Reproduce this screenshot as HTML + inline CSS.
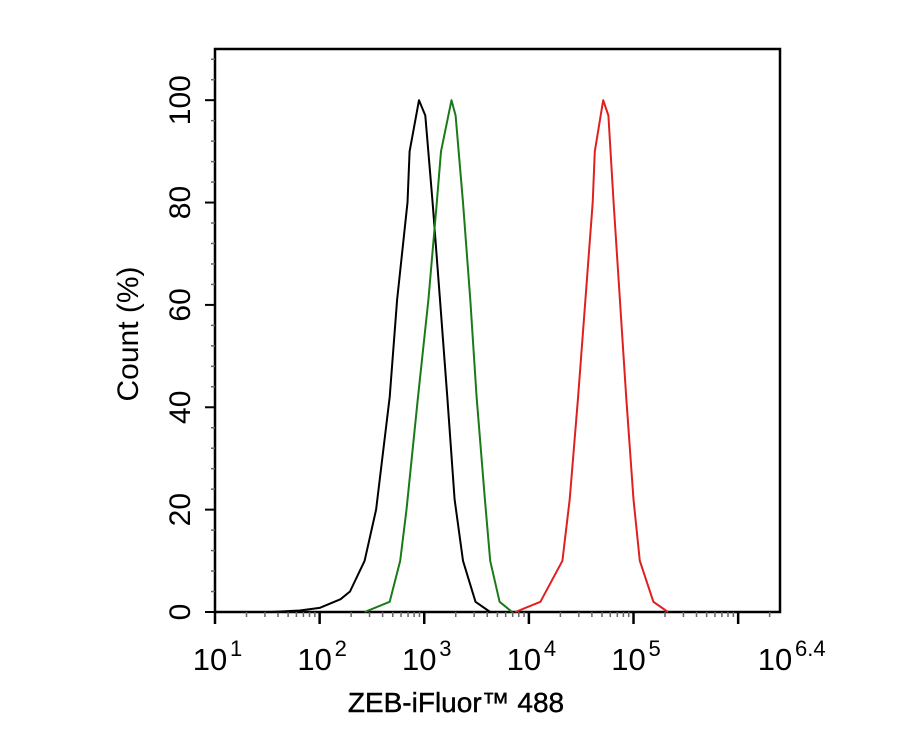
<!DOCTYPE html>
<html><head><meta charset="utf-8"><style>
body{margin:0;background:#fff;}
svg{display:block;font-family:"Liberation Sans",sans-serif;}
</style></head><body>
<svg id="chart" width="913" height="730" viewBox="0 0 913 730" xmlns="http://www.w3.org/2000/svg">
<g id="axes"></g>
<g id="series"></g>
<text x="456" y="712" font-size="28" text-anchor="middle" fill="#000" stroke="#000" stroke-width="0.4">ZEB-iFluor™ 488</text>
<text transform="translate(138,334) rotate(-90)" font-size="30" text-anchor="middle" fill="#000">Count  (%)</text>
</svg>
<script>
const xTickLogs = [1, 2, 3, 4, 5, 6.4];
const xTickBase = ["10", "10", "10", "10", "10", "10"];
const xTickExp = ["1", "2", "3", "4", "5", "6.4"];
const yTicks = [0, 20, 40, 60, 80, 100];
const blackLog = [1.53,1.81,2.0,2.2,2.29,2.43,2.54,2.67,2.74,2.84,2.86,2.95,3.01,3.08,3.15,3.22,3.29,3.37,3.49,3.63];
const blackCount = [0,0.3,0.8,2.5,4,10,20,42,61,80,90,100,97,80,61,42,22,10,2,0];
const greenLog = [2.43,2.67,2.77,2.83,2.94,3.04,3.12,3.16,3.26,3.30,3.37,3.44,3.50,3.58,3.63,3.72,3.84];
const greenCount = [0,2,10,20,42,61,80,90,100,97,80,61,42,22,10,2,0];
const redLog = [3.87,4.11,4.32,4.39,4.47,4.54,4.61,4.63,4.71,4.76,4.81,4.87,4.93,5.00,5.06,5.19,5.33];
const redCount = [0,2,10,22,42,61,80,90,100,97,80,61,42,22,10,2,0];

const L=215,R=780,T=49,B=612,xMin=1,xMax=6.4,yMax=110;
const sx=v=>L+(v-xMin)/(xMax-xMin)*(R-L);
const sy=v=>B-v/yMax*(B-T);
const NS="http://www.w3.org/2000/svg";
function mk(tag,attrs,parent){const e=document.createElementNS(NS,tag);for(const k in attrs)e.setAttribute(k,attrs[k]);parent.appendChild(e);return e;}
const ax=document.getElementById('axes');
const frame=mk('rect',{x:L,y:T,width:R-L,height:B-T,fill:'none',stroke:'#000','stroke-width':2.5},ax);


for(let v=0;v<=yMax;v+=4){
  const major=v%20===0;
  const t=mk('line',{x1:L-(major?10:4),x2:L,y1:sy(v),y2:sy(v),stroke:major?'#000':'#666','stroke-width':major?2:1.5},ax);
  
  
}
yTicks.forEach(v=>{
  const t=mk('text',{transform:`translate(${L-25},${sy(v)}) rotate(-90)`,'font-size':30,'text-anchor':'middle',fill:'#000'},ax);
  t.textContent=v;
  
  
});
for(let d=1;d<=6;d++){
  for(let m=1;m<=9;m++){
    const lv=d+Math.log10(m);
    if(lv>xMax)break;
    const x=sx(lv);
    const t=mk('line',{x1:x,x2:x,y1:B,y2:B+(m===1?12:5),stroke:m===1?'#000':'#666','stroke-width':m===1?2.5:1.5},ax);
    
    
  }
}
xTickLogs.forEach((v,i)=>{
  const t=mk('text',{x:sx(v)-5,y:670,'font-size':31,'text-anchor':'middle',fill:'#000'},ax);
  t.textContent=xTickBase[i];
  
  
  const s=mk('text',{x:sx(v)+15,y:656,'font-size':22,'text-anchor':'start',fill:'#000'},ax);
  s.textContent=xTickExp[i];
  
  
});
const sg=document.getElementById('series');
function draw(xs,ys,color,name){
  const pts=xs.map((v,i)=>sx(v).toFixed(1)+','+sy(ys[i]).toFixed(1)).join(' ');
  const p=mk('polyline',{points:pts,fill:'none',stroke:color,'stroke-width':2,'stroke-linejoin':'round'},sg);
  
  
}
draw(blackLog,blackCount,'#000','control-histogram');
draw(greenLog,greenCount,'#1a7a1a','isotype-histogram');
draw(redLog,redCount,'#e02020','zeb-histogram');
</script>
</body></html>
